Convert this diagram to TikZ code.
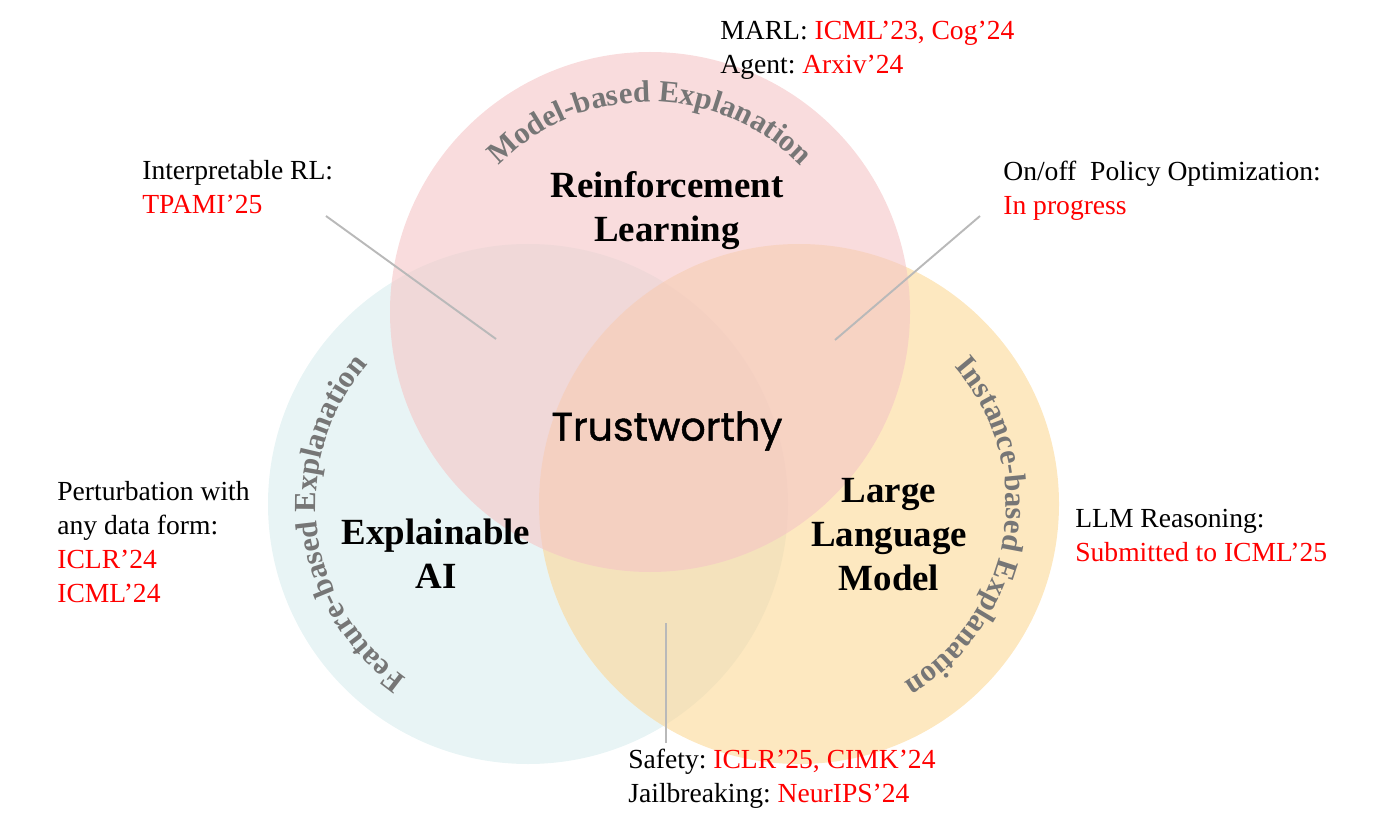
\documentclass[tikz,border=0pt]{standalone}
\usepackage{fontspec}
\setmainfont{Liberation Serif}
\newfontfamily\handfont{Poppins}[FakeBold=1.2]
\usetikzlibrary{calc,decorations.text}
\definecolor{rlpink}{RGB}{245,197,198}
\definecolor{xaiblue}{RGB}{217,237,238}
\definecolor{llmyellow}{RGB}{252,216,150}
\definecolor{curvegray}{RGB}{118,118,118}
\definecolor{linkgray}{RGB}{185,185,185}
\definecolor{venuered}{RGB}{255,0,0}
\newcommand{\venue}[1]{\textcolor{venuered}{#1}}
\newcommand{\curvefont}{\bfseries\fontsize{17.5}{20}\selectfont}
\frenchspacing

\begin{document}
\begin{tikzpicture}[x=0.02cm,y=0.02cm,
  circ/.style={fill=#1,fill opacity=0.6,draw=none},
  area/.style={font=\bfseries\fontsize{21}{25}\selectfont,align=center,anchor=north,inner sep=0pt},
  note/.style={font=\fontsize{15.7}{19.3}\selectfont,align=left,anchor=north west,inner sep=0pt},
  link/.style={draw=linkgray,line width=1.1pt},
  arctext/.style={decorate,decoration={text along path,text align=center,text color=curvegray,text={|\curvefont|#1}}}]
\useasboundingbox (0,0) rectangle (1389,-814);
% circle centres
\coordinate (X) at (528,-504);
\coordinate (L) at (799,-504);
\coordinate (R) at (650,-312);
\fill[circ=xaiblue] (X) circle (260);
\fill[circ=llmyellow] (L) circle (260);
\fill[circ=rlpink] (R) circle (260);
% curved titles
\path[arctext={Model-based Explanation}] ($(R)+(170:210)$) arc[start angle=170,end angle=10,radius=210];
\path[arctext={Feature-based Explanation}] ($(X)+(267:212)$) arc[start angle=267,end angle=107,radius=212];
\path[arctext={Instance-based Explanation}] ($(L)+(71:207)$) arc[start angle=71,end angle=-89,radius=207];
% area labels
\node[area] (rl) at (667,-171) {Reinforcement\\Learning};
\node[area] (xai) at (436,-519) {Explainable\\AI};
\node[area] (llm) at (889,-478) {Large\\Language\\Model};
\node[font=\handfont\fontsize{22.5}{26}\selectfont] (trust) at (667,-431) {Trustworthy};
% notes
\node[note] (marl) at (720,-21) {MARL: \venue{ICML’23, Cog’24}\\Agent: \venue{Arxiv’24}};
\node[note] (irl) at (142,-160) {Interpretable RL:\\\venue{TPAMI’25}};
\node[note] (onoff) at (1003,-161) {On/off\ \ Policy Optimization:\\\venue{In progress}};
\node[note] (pert) at (57,-481) {Perturbation with\\any data form:\\\venue{ICLR’24}\\\venue{ICML’24}};
\node[note] (reason) at (1075,-509) {LLM Reasoning:\\\venue{Submitted to ICML’25}};
\node[note] (safe) at (628,-749) {Safety: \venue{ICLR’25, CIMK’24}\\Jailbreaking: \venue{NeurIPS’24}};
% pointer lines
\coordinate (irl-a) at (326,-216);
\coordinate (irl-b) at (496,-339);
\coordinate (onoff-a) at (980,-216);
\coordinate (onoff-b) at (835,-340);
\coordinate (safe-a) at (666,-623);
\coordinate (safe-b) at (666,-743);
\draw[link] (irl-a) -- (irl-b);
\draw[link] (onoff-a) -- (onoff-b);
\draw[link] (safe-a) -- (safe-b);
\end{tikzpicture}
\end{document}
